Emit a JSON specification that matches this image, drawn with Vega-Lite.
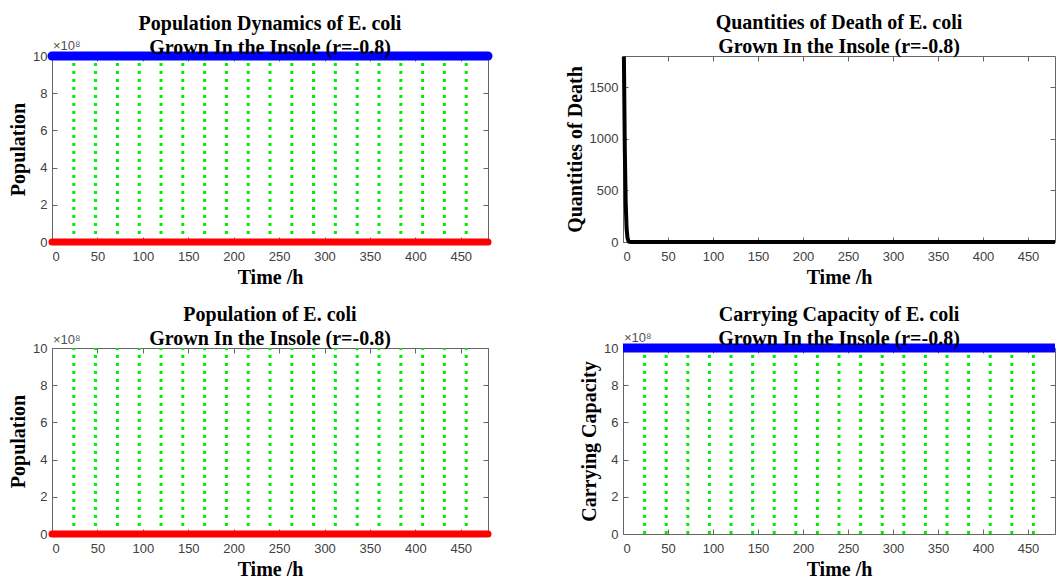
{
  "$schema": "https://vega.github.io/schema/vega-lite/v6.json",
  "padding": {"left": 8, "top": 12, "right": 0, "bottom": 0},
  "background": "white",
  "datasets": {
    "pop": [
      {"t": 0, "N": 0, "K": 1000000000},
      {"t": 24, "N": 0, "K": 1000000000},
      {"t": 48, "N": 0, "K": 1000000000},
      {"t": 72, "N": 0, "K": 1000000000},
      {"t": 96, "N": 0, "K": 1000000000},
      {"t": 120, "N": 0, "K": 1000000000},
      {"t": 144, "N": 0, "K": 1000000000},
      {"t": 168, "N": 0, "K": 1000000000},
      {"t": 192, "N": 0, "K": 1000000000},
      {"t": 216, "N": 0, "K": 1000000000},
      {"t": 240, "N": 0, "K": 1000000000},
      {"t": 264, "N": 0, "K": 1000000000},
      {"t": 288, "N": 0, "K": 1000000000},
      {"t": 312, "N": 0, "K": 1000000000},
      {"t": 336, "N": 0, "K": 1000000000},
      {"t": 360, "N": 0, "K": 1000000000},
      {"t": 384, "N": 0, "K": 1000000000},
      {"t": 408, "N": 0, "K": 1000000000},
      {"t": 432, "N": 0, "K": 1000000000},
      {"t": 456, "N": 0, "K": 1000000000},
      {"t": 480, "N": 0, "K": 1000000000}
    ],
    "days": [
      {"t": 24}, {"t": 48}, {"t": 72}, {"t": 96}, {"t": 120}, {"t": 144}, {"t": 168},
      {"t": 192}, {"t": 216}, {"t": 240}, {"t": 264}, {"t": 288}, {"t": 312}, {"t": 336},
      {"t": 360}, {"t": 384}, {"t": 408}, {"t": 432}, {"t": 456}
    ],
    "death": [
      {"t": 1, "D": 1795},
      {"t": 2, "D": 900},
      {"t": 3, "D": 380},
      {"t": 4, "D": 130},
      {"t": 5, "D": 40},
      {"t": 6, "D": 10},
      {"t": 7, "D": 2},
      {"t": 10, "D": 0},
      {"t": 100, "D": 0},
      {"t": 200, "D": 0},
      {"t": 300, "D": 0},
      {"t": 400, "D": 0},
      {"t": 480, "D": 0}
    ],
    "exp": [{"label": "×10⁸"}]
  },
  "columns": 2,
  "spacing": {"row": 18, "column": 59},
  "concat": [
    {
      "width": 436, "height": 186,
      "title": {"text": ["Population Dynamics of  E. coli", "Grown In the Insole (r=-0.8)"], "offset": -20},
      "resolve": {"axis": {"x": "independent", "y": "independent"}},
      "layer": [
        {
          "data": {"name": "days"},
          "mark": {"type": "rule", "color": "#00ee00", "strokeWidth": 3, "strokeDash": [3, 5]},
          "encoding": {
            "x": {"field": "t", "type": "quantitative", "scale": {"domain": [0, 480], "nice": false, "zero": false},
                  "axis": {"title": "Time /h", "values": [0,50,100,150,200,250,300,350,400,450]}},
            "y": {"datum": 0, "type": "quantitative", "scale": {"domain": [0, 1000000000], "nice": false},
                  "axis": {"title": "Population", "values": [0,200000000,400000000,600000000,800000000,1000000000], "labelExpr": "datum.value/1e8"}},
            "y2": {"datum": 1000000000}
          }
        },
        {
          "data": {"name": "pop"},
          "mark": {"type": "line", "color": "#0000ff", "strokeWidth": 9, "strokeCap": "round"},
          "encoding": {
            "x": {"field": "t", "type": "quantitative", "axis": null},
            "y": {"field": "K", "type": "quantitative", "axis": null}
          }
        },
        {
          "data": {"name": "pop"},
          "mark": {"type": "line", "color": "#ff0000", "strokeWidth": 7, "strokeCap": "round"},
          "encoding": {
            "x": {"field": "t", "type": "quantitative", "axis": null},
            "y": {"field": "N", "type": "quantitative", "axis": null}
          }
        },
        {
          "data": {"name": "exp"},
          "mark": {"type": "text", "align": "left", "baseline": "bottom", "dx": 1, "dy": -3, "fontSize": 13, "color": "#505050", "font": "Liberation Sans"},
          "encoding": {
            "x": {"datum": 0, "type": "quantitative", "axis": null},
            "y": {"datum": 1000000000, "type": "quantitative", "axis": null},
            "text": {"field": "label"}
          }
        },
        {
          "data": {"name": "pop"},
          "mark": {"type": "point", "opacity": 0},
          "encoding": {
            "x": {"field": "t", "type": "quantitative", "axis": {"orient": "top", "labels": false, "title": null, "values": [0,50,100,150,200,250,300,350,400,450]}},
            "y": {"field": "K", "type": "quantitative", "axis": {"orient": "right", "labels": false, "title": null, "values": [0,200000000,400000000,600000000,800000000,1000000000]}}
          }
        }
      ]
    },
    {
      "width": 432, "height": 186,
      "title": {"text": ["Quantities of Death of E. coli", "Grown In the Insole (r=-0.8)"], "offset": -8},
      "resolve": {"axis": {"x": "independent", "y": "independent"}},
      "layer": [
        {
          "data": {"name": "death"},
          "mark": {"type": "line", "color": "#000000", "strokeWidth": 4},
          "encoding": {
            "x": {"field": "t", "type": "quantitative", "scale": {"domain": [0, 480], "nice": false, "zero": false},
                  "axis": {"title": "Time /h", "values": [0,50,100,150,200,250,300,350,400,450]}},
            "y": {"field": "D", "type": "quantitative", "scale": {"domain": [0, 1800], "nice": false},
                  "axis": {"title": "Quantities of Death", "values": [0,500,1000,1500], "format": "d"}}
          }
        },
        {
          "data": {"name": "death"},
          "mark": {"type": "point", "opacity": 0},
          "encoding": {
            "x": {"field": "t", "type": "quantitative", "axis": {"orient": "top", "labels": false, "title": null, "values": [0,50,100,150,200,250,300,350,400,450]}},
            "y": {"field": "D", "type": "quantitative", "axis": {"orient": "right", "labels": false, "title": null, "values": [0,500,1000,1500]}}
          }
        }
      ]
    },
    {
      "width": 436, "height": 186,
      "title": {"text": ["Population of  E. coli", "Grown In the Insole (r=-0.8)"], "offset": -15},
      "resolve": {"axis": {"x": "independent", "y": "independent"}},
      "layer": [
        {
          "data": {"name": "days"},
          "mark": {"type": "rule", "color": "#00ee00", "strokeWidth": 3, "strokeDash": [3, 5]},
          "encoding": {
            "x": {"field": "t", "type": "quantitative", "scale": {"domain": [0, 480], "nice": false, "zero": false},
                  "axis": {"title": "Time /h", "values": [0,50,100,150,200,250,300,350,400,450]}},
            "y": {"datum": 0, "type": "quantitative", "scale": {"domain": [0, 1000000000], "nice": false},
                  "axis": {"title": "Population", "values": [0,200000000,400000000,600000000,800000000,1000000000], "labelExpr": "datum.value/1e8"}},
            "y2": {"datum": 1000000000}
          }
        },
        {
          "data": {"name": "pop"},
          "mark": {"type": "line", "color": "#ff0000", "strokeWidth": 7, "strokeCap": "round"},
          "encoding": {
            "x": {"field": "t", "type": "quantitative", "axis": null},
            "y": {"field": "N", "type": "quantitative", "axis": null}
          }
        },
        {
          "data": {"name": "exp"},
          "mark": {"type": "text", "align": "left", "baseline": "bottom", "dx": 1, "dy": -1, "fontSize": 13, "color": "#505050", "font": "Liberation Sans"},
          "encoding": {
            "x": {"datum": 0, "type": "quantitative", "axis": null},
            "y": {"datum": 1000000000, "type": "quantitative", "axis": null},
            "text": {"field": "label"}
          }
        },
        {
          "data": {"name": "pop"},
          "mark": {"type": "point", "opacity": 0},
          "encoding": {
            "x": {"field": "t", "type": "quantitative", "axis": {"orient": "top", "labels": false, "title": null, "values": [0,50,100,150,200,250,300,350,400,450]}},
            "y": {"field": "K", "type": "quantitative", "axis": {"orient": "right", "labels": false, "title": null, "values": [0,200000000,400000000,600000000,800000000,1000000000]}}
          }
        }
      ]
    },
    {
      "width": 432, "height": 186,
      "title": {"text": ["Carrying Capacity of  E. coli", "Grown In the Insole (r=-0.8)"], "offset": -19},
      "resolve": {"axis": {"x": "independent", "y": "independent"}},
      "layer": [
        {
          "data": {"name": "days"},
          "mark": {"type": "rule", "color": "#00ee00", "strokeWidth": 3, "strokeDash": [3, 5]},
          "encoding": {
            "x": {"field": "t", "type": "quantitative", "scale": {"domain": [0, 480], "nice": false, "zero": false},
                  "axis": {"title": "Time /h", "values": [0,50,100,150,200,250,300,350,400,450]}},
            "y": {"datum": 0, "type": "quantitative", "scale": {"domain": [0, 1000000000], "nice": false},
                  "axis": {"title": "Carrying Capacity", "values": [0,200000000,400000000,600000000,800000000,1000000000], "labelExpr": "datum.value/1e8"}},
            "y2": {"datum": 1000000000}
          }
        },
        {
          "data": {"name": "pop"},
          "mark": {"type": "line", "color": "#0000ff", "strokeWidth": 9, "strokeCap": "butt"},
          "encoding": {
            "x": {"field": "t", "type": "quantitative", "axis": null},
            "y": {"field": "K", "type": "quantitative", "axis": null}
          }
        },
        {
          "data": {"name": "exp"},
          "mark": {"type": "text", "align": "left", "baseline": "bottom", "dx": 1, "dy": -3, "fontSize": 13, "color": "#505050", "font": "Liberation Sans"},
          "encoding": {
            "x": {"datum": 0, "type": "quantitative", "axis": null},
            "y": {"datum": 1000000000, "type": "quantitative", "axis": null},
            "text": {"field": "label"}
          }
        },
        {
          "data": {"name": "pop"},
          "mark": {"type": "point", "opacity": 0},
          "encoding": {
            "x": {"field": "t", "type": "quantitative", "axis": {"orient": "top", "labels": false, "title": null, "values": [0,50,100,150,200,250,300,350,400,450]}},
            "y": {"field": "K", "type": "quantitative", "axis": {"orient": "right", "labels": false, "title": null, "values": [0,200000000,400000000,600000000,800000000,1000000000]}}
          }
        }
      ]
    }
  ],
  "config": {
    "font": "Liberation Sans",
    "view": {"stroke": null},
    "axis": {
      "grid": false,
      "labelFont": "Liberation Sans",
      "labelFontSize": 13,
      "labelColor": "#404040",
      "domainColor": "#666666",
      "tickColor": "#666666",
      "tickSize": -5,
      "titleFont": "Liberation Serif",
      "titleFontWeight": "bold",
      "titleFontSize": 20,
      "titleColor": "#000000"
    },
    "axisX": {"labelPadding": 13, "titlePadding": 4},
    "axisY": {"labelPadding": 10, "titlePadding": 4},
    "title": {"font": "Liberation Serif", "fontSize": 20, "fontWeight": "bold", "color": "#000000", "lineHeight": 24, "offset": 2, "anchor": "middle"}
  }
}
